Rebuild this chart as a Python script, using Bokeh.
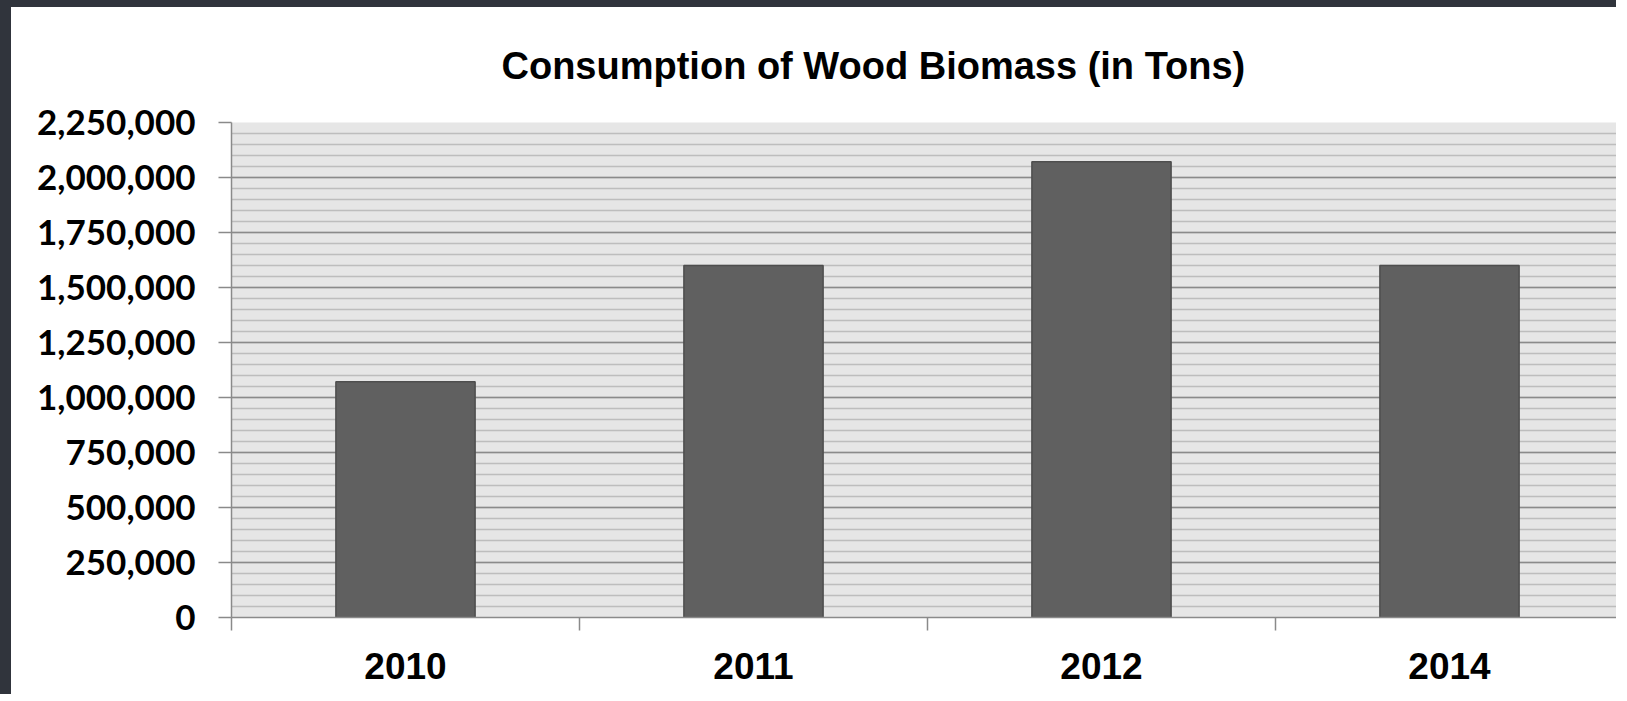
from bokeh.plotting import figure
from bokeh.models import ColumnDataSource, Range1d, FixedTicker, NumeralTickFormatter
from bokeh.embed import file_html
from bokeh.resources import INLINE

# ---- data ----
years = ["2010", "2011", "2012", "2014"]
consumption = [1072000, 1600000, 2072000, 1600000]
y_ticks = [0, 250000, 500000, 750000, 1000000, 1250000, 1500000, 1750000, 2000000, 2250000]
y_minor_step = 50000
title_text = "Consumption of Wood Biomass (in Tons)"

xs = [i + 0.5 for i in range(len(years))]
src = ColumnDataSource(dict(x=xs, top=consumption, year=years))

p = figure(width=1616, height=694, output_backend="svg", toolbar_location=None,
           x_range=Range1d(0, len(years)), y_range=Range1d(y_ticks[0], y_ticks[-1]),
           min_border_left=220, min_border_right=4, min_border_top=115, min_border_bottom=84)
p.styles = {"border-top": "7px solid #30343c", "border-left": "11px solid #30343c"}

p.vbar(x="x", top="top", width=0.4, source=src,
       fill_color="#606060", line_color="#4e4e4e", line_width=1.5)

p.background_fill_color = "#e6e6e6"
p.border_fill_color = "white"
p.outline_line_color = None

# title
p.title.text = title_text
p.title.text_font = "Liberation Sans"
p.title.text_font_style = "bold"
p.title.text_font_size = "38px"
p.title.text_color = "black"
p.title.align = "left"
p.title.vertical_align = "top"
p.title.offset = 270
p.title.standoff = 68

# y axis
minor = list(range(y_ticks[0], y_ticks[-1] + 1, y_minor_step))
p.yaxis.ticker = FixedTicker(ticks=y_ticks, minor_ticks=minor)
p.yaxis.formatter = NumeralTickFormatter(format="0,0")
p.yaxis.axis_line_color = "#8a8a8a"
p.yaxis.axis_line_width = 1.5
p.yaxis.major_tick_line_color = "#8a8a8a"
p.yaxis.major_tick_line_width = 1.5
p.yaxis.major_tick_out = 13
p.yaxis.major_tick_in = 0
p.yaxis.minor_tick_line_color = None
p.yaxis.major_label_text_font = "Lato"
p.yaxis.major_label_text_font_style = "bold"
p.yaxis.major_label_text_font_size = "35px"
p.yaxis.major_label_text_color = "black"
p.yaxis.major_label_standoff = 23

# x axis: labels at centers, tick marks at category boundaries
p.xaxis.ticker = FixedTicker(ticks=xs, minor_ticks=list(range(len(years) + 1)))
p.xaxis.major_label_overrides = {x: y for x, y in zip(xs, years)}
p.xaxis.axis_line_color = "#8a8a8a"
p.xaxis.axis_line_width = 1.5
p.xaxis.major_tick_line_color = None
p.xaxis.major_tick_out = 0
p.xaxis.major_tick_in = 0
p.xaxis.minor_tick_line_color = "#8a8a8a"
p.xaxis.minor_tick_line_width = 1.5
p.xaxis.minor_tick_out = 13
p.xaxis.minor_tick_in = 0
p.xaxis.major_label_text_font = "Liberation Sans"
p.xaxis.major_label_text_font_style = "bold"
p.xaxis.major_label_text_font_size = "37px"
p.xaxis.major_label_text_color = "black"
p.xaxis.major_label_standoff = 22

# grid
p.xgrid.grid_line_color = None
p.ygrid.grid_line_color = "#8a8a8a"
p.ygrid.grid_line_width = 1.5
p.ygrid.minor_grid_line_color = "#bdbdbd"
p.ygrid.minor_grid_line_width = 1.5

open("out.html", "w").write(file_html(p, INLINE))
